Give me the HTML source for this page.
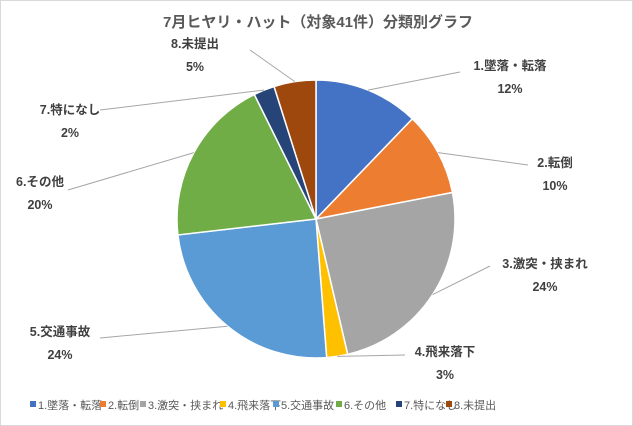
<!DOCTYPE html>
<html><head><meta charset="utf-8"><style>
body{margin:0;background:#fff;}
svg{display:block;font-family:"Liberation Sans","Noto Sans CJK JP",sans-serif;}
</style></head><body>
<svg width="633" height="426">
<rect x="0.5" y="0.5" width="632" height="425" fill="#fff" stroke="#d9d9d9"/>
<text x="318" y="27" text-anchor="middle" font-size="15" font-weight="bold" fill="#595959">7月ヒヤリ・ハット（対象41件）分類別グラフ</text>
<g id="slices"></g><g id="leaders"></g><g id="labels"></g><g id="legend"></g>
</svg>
<script>
const categories=["1.墜落・転落","2.転倒","3.激突・挟まれ","4.飛来落下","5.交通事故","6.その他","7.特になし","8.未提出"];
const counts=[5,4,10,1,10,8,1,2];
const percentLabels=["12%","10%","24%","3%","24%","20%","2%","5%"];
const colors=["#4472c4","#ed7d31","#a5a5a5","#ffc000","#5b9bd5","#70ad47","#264478","#9e480e"];
const labelPos=[[510,70],[555,167],[545,268],[445,356],[60,336],[40,186],[70,114],[195,48]];
const leaderEnd=[[460,72],[528,165],[490,266],[405,355],[100,338],[68,190],[100,110],[250,50]];
const cx=316,cy=219,r=139;
const NS="http://www.w3.org/2000/svg";
const total=counts.reduce((a,b)=>a+b,0);
const sl=document.getElementById('slices'),ld=document.getElementById('leaders'),lb=document.getElementById('labels'),lg=document.getElementById('legend');
let a=-Math.PI/2;
counts.forEach((v,i)=>{
  const da=v/total*2*Math.PI,a2=a+da;
  const x1=cx+r*Math.cos(a),y1=cy+r*Math.sin(a),x2=cx+r*Math.cos(a2),y2=cy+r*Math.sin(a2);
  const p=document.createElementNS(NS,'path');
  p.setAttribute('d',`M${cx},${cy}L${x1},${y1}A${r},${r} 0 ${da>Math.PI?1:0} 1 ${x2},${y2}Z`);
  p.setAttribute('fill',colors[i]);p.setAttribute('stroke','#fff');p.setAttribute('stroke-width','1.5');
  
  
  sl.appendChild(p);
  const m=(a+a2)/2,mx=cx+r*Math.cos(m),my=cy+r*Math.sin(m);
  const l=document.createElementNS(NS,'line');
  l.setAttribute('x1',mx);l.setAttribute('y1',my);l.setAttribute('x2',leaderEnd[i][0]);l.setAttribute('y2',leaderEnd[i][1]);
  l.setAttribute('stroke','#a6a6a6');l.setAttribute('stroke-width','1');
  
  
  ld.appendChild(l);
  const t=document.createElementNS(NS,'text');
  t.setAttribute('x',labelPos[i][0]);t.setAttribute('y',labelPos[i][1]);
  t.setAttribute('text-anchor','middle');t.setAttribute('font-size','12.5');t.setAttribute('font-weight','bold');t.setAttribute('fill','#404040');
  
  
  const s1=document.createElementNS(NS,'tspan');s1.setAttribute('x',labelPos[i][0]);s1.textContent=categories[i];
  const s2=document.createElementNS(NS,'tspan');s2.setAttribute('x',labelPos[i][0]);s2.setAttribute('dy','23');s2.textContent=percentLabels[i];
  t.appendChild(s1);t.appendChild(s2);lb.appendChild(t);
  a=a2;
});
const legX=[33,103,143,223,276,339,399,449];
categories.forEach((c,i)=>{
  const g=document.createElementNS(NS,'g');
  
  
  const rc=document.createElementNS(NS,'rect');
  rc.setAttribute('x',legX[i]-3);rc.setAttribute('y',401);rc.setAttribute('width',6);rc.setAttribute('height',6);rc.setAttribute('fill',colors[i]);
  const t=document.createElementNS(NS,'text');
  t.setAttribute('x',legX[i]+5);t.setAttribute('y',409);t.setAttribute('font-size','11');t.setAttribute('fill','#595959');
  t.textContent=c;
  g.appendChild(rc);g.appendChild(t);lg.appendChild(g);
});
</script>
</body></html>
